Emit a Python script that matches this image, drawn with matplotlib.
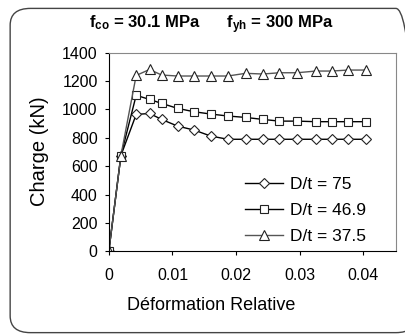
import matplotlib
matplotlib.use("Agg")
import matplotlib.pyplot as plt
from matplotlib.patches import FancyBboxPatch

# strain values shared by the three curves
strain = [0, 0.0019, 0.0043, 0.0064, 0.0083, 0.0108, 0.0134, 0.0160, 0.0187,
          0.0215, 0.0242, 0.0268, 0.0296, 0.0325, 0.0350, 0.0376, 0.0404]
load_75 = [0, 675, 965, 972, 930, 883, 855, 813, 790,
           790, 790, 790, 790, 790, 790, 790, 790]
load_469 = [0, 675, 1100, 1071, 1043, 1008, 984, 968, 954,
            944, 930, 918, 918, 914, 914, 914, 914]
load_375 = [0, 675, 1240, 1282, 1243, 1236, 1236, 1236, 1236,
            1255, 1250, 1259, 1259, 1271, 1271, 1278, 1278]
labels = ["D/t = 75", "D/t = 46.9", "D/t = 37.5"]
xticks = [0, 0.01, 0.02, 0.03, 0.04]
xticklabels = ["0", "0.01", "0.02", "0.03", "0.04"]
yticks = list(range(0, 1401, 200))

plt.rcParams["font.family"] = ["Liberation Sans", "DejaVu Sans"]
plt.rcParams["mathtext.fontset"] = "custom"
plt.rcParams["mathtext.bf"] = "Liberation Sans:bold"
plt.rcParams["mathtext.rm"] = "Liberation Sans"

fig = plt.figure(figsize=(4.06, 3.36), dpi=100)
fig.patches.append(FancyBboxPatch((0.025, 0.01), 1.0, 0.965,
                                  boxstyle="round,pad=0,rounding_size=0.05",
                                  transform=fig.transFigure, fill=False,
                                  edgecolor="#444444", lw=1.0))
ax = fig.add_axes([0.268, 0.252, 0.707, 0.591])

ax.plot(strain, load_75, color="black", lw=1.0, marker="D", ms=5.5,
        mfc="white", mec="#222222", mew=0.8, label=labels[0])
ax.plot(strain, load_469, color="black", lw=1.0, marker="s", ms=6,
        mfc="white", mec="#222222", mew=0.8, label=labels[1])
ax.plot(strain, load_375, color="#555555", lw=1.0, marker="^", ms=7,
        mfc="white", mec="#222222", mew=0.8, label=labels[2])

ax.set_xlim(0, 0.0451)
ax.set_ylim(0, 1400)
ax.set_xticks(xticks)
ax.set_xticklabels(xticklabels)
ax.set_yticks(yticks)
ax.tick_params(labelsize=11.5, length=3, width=0.8, pad=5)
ax.tick_params(axis="x", pad=9)
for side in ("top", "right"):
    ax.spines[side].set_color("#888888")
for side in ("left", "bottom"):
    ax.spines[side].set_color("black")

fig.text(0.52, 0.092, "Déformation Relative", ha="center", va="center",
         fontsize=13)
fig.text(0.098, 0.55, "Charge (kN)", ha="center", va="center",
         fontsize=14.5, rotation=90)

fig.text(0.52, 0.926,
         r"$\mathbf{f_{co}}$ = 30.1 MPa      $\mathbf{f_{yh}}$ = 300 MPa",
         ha="center", va="center", fontsize=12, fontweight="bold")

ax.legend(loc="lower left", frameon=False, fontsize=12.5, handlelength=2.2,
          handletextpad=0.4, labelspacing=0.62, borderpad=0,
          borderaxespad=0, bbox_to_anchor=(0.474, 0.037))

fig.savefig("out.png", dpi=100)
